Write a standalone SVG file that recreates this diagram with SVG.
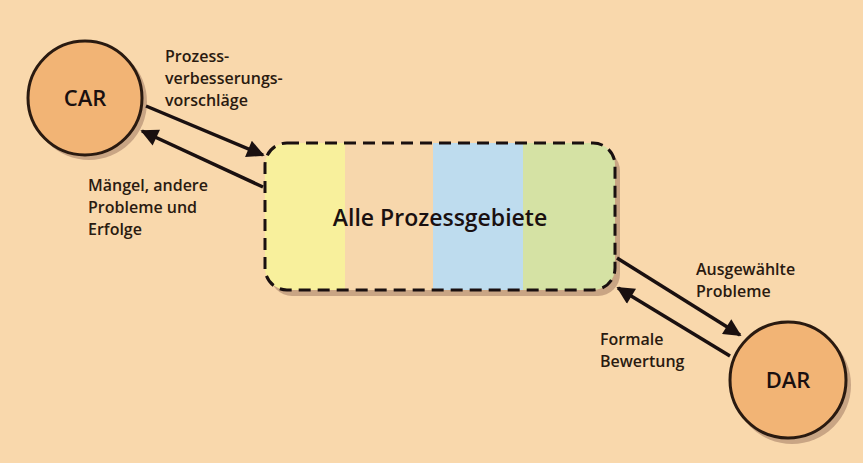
<svg xmlns="http://www.w3.org/2000/svg" width="863" height="463" viewBox="0 0 863 463">
<style>
.lbl{font-family:"Open Sans","Noto Sans",sans-serif;font-size:16px;font-weight:600;fill:#2a1a10;}
.big{font-family:"Open Sans","Noto Sans",sans-serif;font-size:22px;font-weight:600;fill:#1a1010;text-anchor:middle;}
.node{fill:#F2B475;stroke:#2a1a10;stroke-width:3;}
.shadow{fill:#C9A584;}
.conn{stroke:#1a1010;stroke-width:3.5;fill:none;marker-end:url(#ah);}
</style>
<defs>
<marker id="ah" viewBox="0 0 10 10" refX="9" refY="5" markerWidth="6.5" markerHeight="5" markerUnits="strokeWidth" orient="auto">
<path d="M0,0 L10,5 L0,10 z" fill="#1a1010"/>
</marker>
<clipPath id="boxclip"><rect x="265" y="143" width="350" height="147" rx="22"/></clipPath>
</defs>
<rect width="863" height="463" fill="#F9D8AC"/>
<g id="car">
<circle class="shadow" cx="89" cy="102" r="58"/>
<circle class="node" cx="85" cy="98" r="57"/>
<text class="big" x="85" y="106">CAR</text>
</g>
<g id="dar">
<circle class="shadow" cx="792" cy="385" r="59"/>
<circle class="node" cx="788" cy="380" r="58"/>
<text class="big" x="788" y="388">DAR</text>
</g>
<g id="alle">
<rect x="270" y="149" width="350" height="147" rx="22" fill="#C9A584"/>
<g clip-path="url(#boxclip)">
<rect x="265" y="143" width="80" height="147" fill="#F8F09C"/>
<rect x="345" y="143" width="88" height="147" fill="#F7D7AC"/>
<rect x="433" y="143" width="90" height="147" fill="#BEDCEE"/>
<rect x="523" y="143" width="92" height="147" fill="#D5E2A4"/>
</g>
<rect x="265" y="143" width="350" height="147" rx="22" fill="none" stroke="#1a1010" stroke-width="3" stroke-dasharray="12,7"/>
<text class="big" x="440" y="226" style="font-size:23px">Alle Prozessgebiete</text>
</g>
<g id="connectors">
<line class="conn" x1="146" y1="106" x2="263" y2="155"/>
<line class="conn" x1="263" y1="187" x2="142" y2="131"/>
<line class="conn" x1="617" y1="258" x2="740" y2="335"/>
<line class="conn" x1="730" y1="356" x2="618" y2="288"/>
</g>
<g id="labels">
<text class="lbl" x="165" y="62">Prozess-</text>
<text class="lbl" x="165" y="84">verbesserungs-</text>
<text class="lbl" x="165" y="106">vorschläge</text>
<text class="lbl" x="88" y="191">Mängel, andere</text>
<text class="lbl" x="88" y="213">Probleme und</text>
<text class="lbl" x="88" y="235">Erfolge</text>
<text class="lbl" x="696" y="275">Ausgewählte</text>
<text class="lbl" x="696" y="297">Probleme</text>
<text class="lbl" x="600" y="345">Formale</text>
<text class="lbl" x="600" y="367">Bewertung</text>
</g>
</svg>
